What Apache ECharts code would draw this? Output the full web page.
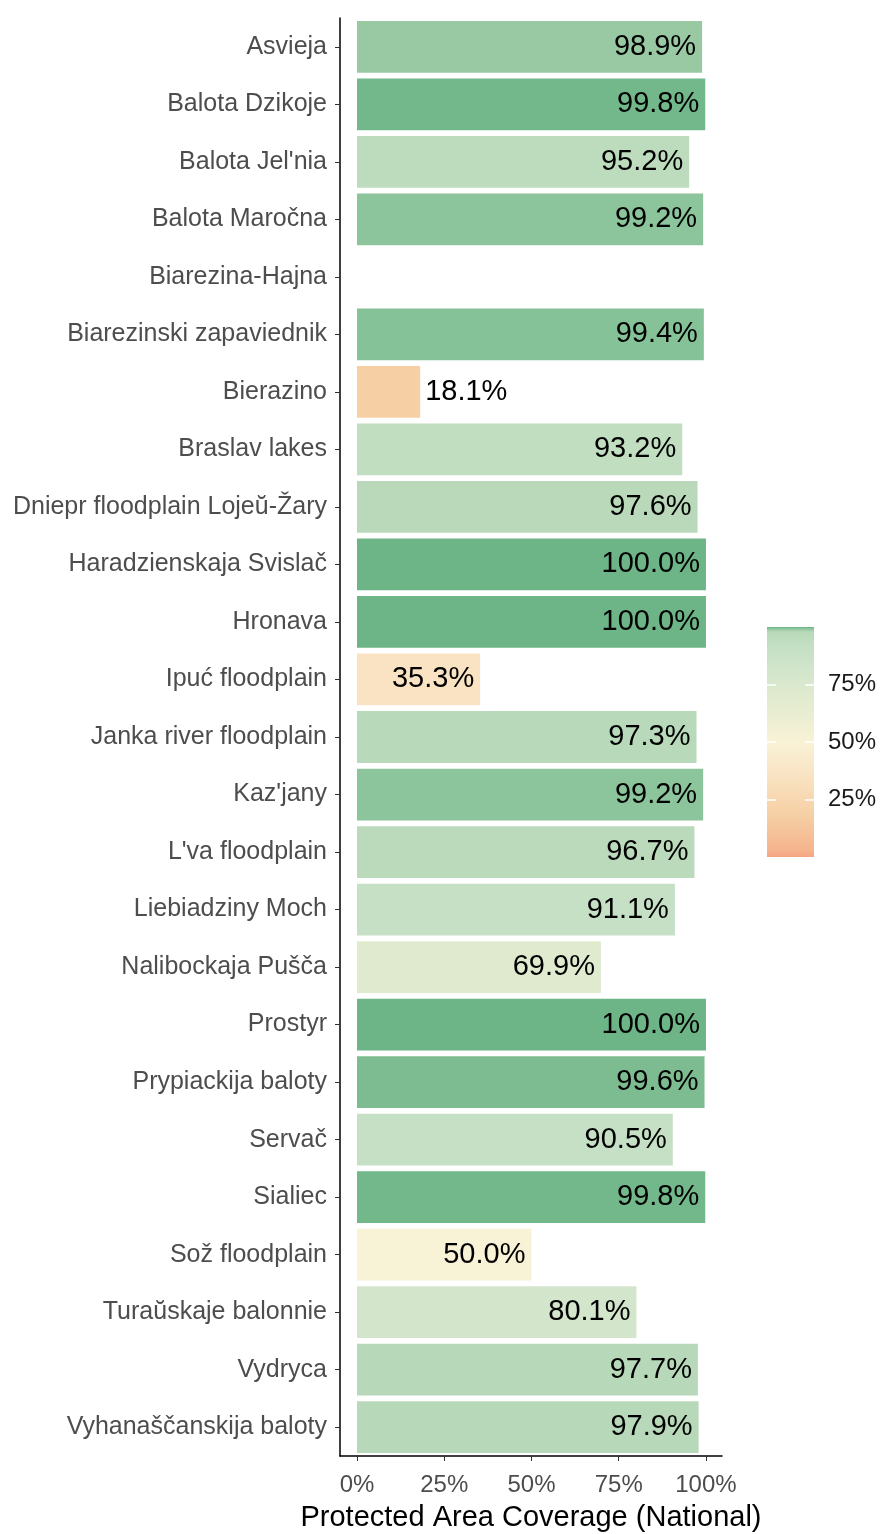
<!DOCTYPE html>
<html>
<head>
<meta charset="utf-8">
<title>Protected Area Coverage (National)</title>
<script src="https://cdn.jsdelivr.net/npm/echarts@6/dist/echarts.min.js"></script>
<style>
    html, body {margin: 0; padding: 0; background: #fff;}
    #c1_pa_coverage {width: 881px; height: 1534px;}
</style>
</head>
<body>
<div id="c1_pa_coverage"></div>
<script>
//站点名称（从上到下）
var siteNames = ['Asvieja', 'Balota Dzikoje', "Balota Jel'nia", 'Balota Maročna', 'Biarezina-Hajna',
    'Biarezinski zapaviednik', 'Bierazino', 'Braslav lakes', 'Dniepr floodplain Lojeŭ-Žary',
    'Haradzienskaja Svislač', 'Hronava', 'Ipuć floodplain', 'Janka river floodplain', "Kaz'jany",
    "L'va floodplain", 'Liebiadziny Moch', 'Nalibockaja Pušča', 'Prostyr', 'Prypiackija baloty',
    'Servač', 'Sialiec', 'Sož floodplain', 'Turaŭskaje balonnie', 'Vydryca', 'Vyhanaščanskija baloty'];

//国家保护区覆盖率 (%)，null = 无数据
var coverage = [98.9, 99.8, 95.2, 99.2, null,
    99.4, 18.1, 93.2, 97.6,
    100.0, 100.0, 35.3, 97.3, 99.2,
    96.7, 91.1, 69.9, 100.0, 99.6,
    90.5, 99.8, 50.0, 80.1, 97.7, 97.9];

//坐标轴刻度
var xTicks = [0, 25, 50, 75, 100];
var legendTicks = [25, 50, 75];

//颜色梯度 [值, 颜色]
var colourStops = [
    [0, '#f4a582'], [3, '#f5b48d'], [18, '#f6cfa4'], [35, '#f9e3c2'], [50, '#f8f2d6'],
    [70, '#e0eacf'], [80, '#d3e6cc'], [91, '#c5e0c5'], [97.9, '#b8d9b9'],
    [98.9, '#98c9a3'], [99.2, '#8cc49b'], [99.4, '#86c298'], [99.6, '#7cbc90'],
    [99.8, '#72b88b'], [100, '#6db487']
];

var FONT = "'Liberation Sans', Arial, sans-serif";

drawBarChart("c1_pa_coverage");

//十六进制颜色插值
function hexToRgb(hex) {
    return [parseInt(hex.substr(1, 2), 16), parseInt(hex.substr(3, 2), 16), parseInt(hex.substr(5, 2), 16)];
}

function colourFor(v) {
    for (var i = 1; i < colourStops.length; i++) {
        if (v <= colourStops[i][0]) {
            var a = colourStops[i - 1], b = colourStops[i];
            var t = (v - a[0]) / (b[0] - a[0]);
            var ca = hexToRgb(a[1]), cb = hexToRgb(b[1]);
            var rgb = ca.map(function (c, k) { return Math.round(c + (cb[k] - c) * t); });
            return 'rgb(' + rgb.join(',') + ')';
        }
    }
    return colourStops[colourStops.length - 1][1];
}

/**
 * 条形图，显示各站点保护区覆盖率
 * @param domId
 */
function drawBarChart(domId) {
    var barData = coverage.map(function (v) {
        if (v === null) return '-';
        return {
            value: v,
            itemStyle: {color: colourFor(v)},
            label: v < 25 ? {position: 'right', distance: 5} : {position: 'insideRight', distance: 6}
        };
    });

    //图例渐变
    var gradStops = colourStops.map(function (s) {
        return {offset: s[0] / 100, color: s[1]};
    });

    var option = {
        animation: false,
        backgroundColor: '#fff',
        textStyle: {fontFamily: FONT},
        grid: [
            {left: 340, top: 18, width: 382, height: 1438, outerBoundsMode: 'none', containLabel: false},
            {left: 767, top: 627, width: 47, height: 230, outerBoundsMode: 'none', containLabel: false}
        ],
        xAxis: [
            {
                type: 'value',
                gridIndex: 0,
                min: -4.87,
                max: 104.6,
                splitLine: {show: false},
                axisLine: {show: true, onZero: false, lineStyle: {color: '#000', width: 1.5}},
                axisTick: {show: true, customValues: xTicks, length: 5, lineStyle: {color: '#333'}},
                axisLabel: {
                    customValues: xTicks,
                    formatter: '{value}%',
                    color: '#4d4d4d',
                    fontSize: 24,
                    fontFamily: FONT,
                    margin: 17
                },
                name: 'Protected Area Coverage (National)',
                nameLocation: 'middle',
                nameGap: 47,
                nameTextStyle: {color: '#000', fontSize: 29, fontFamily: FONT}
            },
            {type: 'category', gridIndex: 1, data: [''], show: false}
        ],
        yAxis: [
            {
                type: 'category',
                gridIndex: 0,
                inverse: true,
                data: siteNames,
                axisLine: {show: true, onZero: false, lineStyle: {color: '#000', width: 1.5}},
                axisTick: {show: true, alignWithLabel: true, length: 5, lineStyle: {color: '#333'}},
                axisLabel: {color: '#4d4d4d', fontSize: 25, fontFamily: FONT, margin: 13}
            },
            {
                type: 'value',
                gridIndex: 1,
                position: 'right',
                min: 0,
                max: 100,
                z: 10,
                splitLine: {show: false},
                axisLine: {show: false},
                axisTick: {show: true, inside: true, customValues: legendTicks, length: 9, lineStyle: {color: '#fff', width: 1.5}},
                axisLabel: {customValues: legendTicks, formatter: '{value}%', color: '#1a1a1a', fontSize: 24, fontFamily: FONT, margin: 14}
            },
            {
                type: 'value',
                gridIndex: 1,
                position: 'left',
                min: 0,
                max: 100,
                z: 10,
                splitLine: {show: false},
                axisLine: {show: false},
                axisTick: {show: true, inside: true, customValues: legendTicks, length: 9, lineStyle: {color: '#fff', width: 1.5}},
                axisLabel: {show: false}
            }
        ],
        series: [
            {
                name: 'Coverage',
                type: 'bar',
                xAxisIndex: 0,
                yAxisIndex: 0,
                barWidth: '90%',
                label: {
                    show: true,
                    color: '#000',
                    fontSize: 29,
                    fontFamily: FONT,
                    formatter: function (p) { return p.value.toFixed(1) + '%'; }
                },
                data: barData
            },
            {
                name: 'legend',
                type: 'bar',
                xAxisIndex: 1,
                yAxisIndex: 1,
                barWidth: '100%',
                silent: true,
                itemStyle: {
                    color: new echarts.graphic.LinearGradient(0, 1, 0, 0, gradStops)
                },
                data: [100]
            }
        ]
    };

    var chart = echarts.init(document.getElementById(domId));
    chart.setOption(option);
}
</script>
</body>
</html>
